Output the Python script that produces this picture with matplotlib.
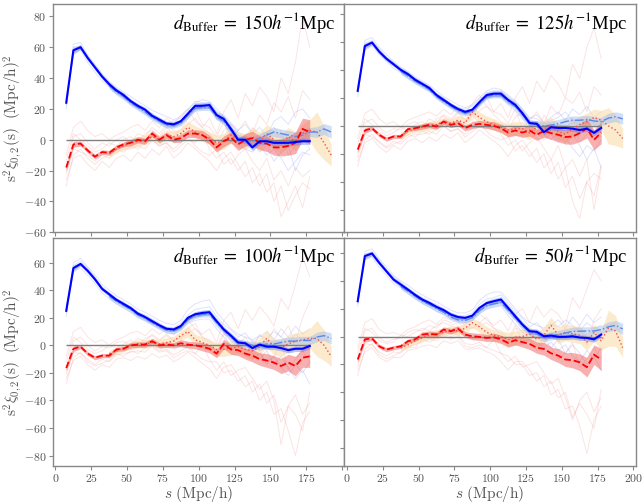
import numpy as np
import matplotlib
matplotlib.use('Agg')
import matplotlib.pyplot as plt
from matplotlib.ticker import FuncFormatter

plt.rcParams['mathtext.fontset'] = 'cm'

# bin centres (Mpc/h)
s_main = np.arange(7.5, 180, 5)    # 35 bins, 7.5 .. 177.5
s_alt = np.arange(37.5, 195, 5)    # 32 bins, 37.5 .. 192.5

buffers = [150, 125, 100, 50]

# ---- top left (150) ----
mono_tl = [24, 58, 60, 53, 47, 41, 36, 32, 29, 25, 22, 19.5, 15.5, 13, 10.5, 10, 12, 17, 22, 22, 22.5, 16, 13.5, 7, 0, 0, -5, -1, -1, -2, -2, -2, -1.5, -1, -1]
quad_tl = [-18, -3, -2.5, -7, -11, -8, -8.5, -5, -3, -2, 0, -1, 4, 0, 3, 0, 1, 4, 4, 3, 0, -5, -1, 1.5, -3, 0, 1, -2, -2.5, -5, -5, -4, -2, 7, 5]
mono2_tl = [35, 31, 28, 24, 21, 18, 14.5, 12, 9.5, 9.5, 11, 16, 20.5, 21, 21, 15, 12, 6, 1, 0, -1, 1, 3, 5, 4, 3, 2, 3, 5, 5, 7, 5]
quad2_tl = [-9, -6, -4, -2, -1, 0, 2, 0, 3, 2, 4, 8, 5, 3, 1, -2, -1, 3, 0, -1, 2, -1, 4, 0, -3, 2, -1, 4, 6, 5, -2, -10]

# ---- top right (125) ----
mono_tr = [25, 57, 59.5, 53, 48, 44, 40, 37, 33, 30, 27, 22, 18.5, 15, 12, 10, 11.5, 17, 22, 23, 23, 18.5, 15, 9, 2, 1.5, -4.5, -1, -1.5, -1.5, -2, -3, -2, -5, -1.5]
quad_tr = [-17, -3.3, -1.7, -6.4, -9.5, -7.6, -7.6, -2.4, -1.7, -0.5, 0.7, -0.5, 3, 0.7, 2, -1.7, 0.7, 1.4, 0.7, 0, -1.7, -4.8, -3.3, -4.8, -3.3, -6.4, -3.6, -5.2, -6.4, -8, -7.6, -5.2, -1.7, -10, -4.8]
mono2_tr = [39, 35.5, 32, 29, 26, 21, 17.5, 14, 11, 9, 10.5, 16, 21, 22, 22, 17.5, 14, 8, 2, 1, 0, 0.5, 1.5, 3, 4, 4, 4.5, 3.5, 3, 5.5, 6.5, 5]
quad2_tr = [-7, -4, -2, -1, 0, 1, 3, 2, 4, 2, 10, 6, 3, 1, -1, -3, -2, -2, -5, -1, -2, 0, -4, -6, -2, 1, 3, 6, 4, 0, -3, -9]

# ---- bottom left (100) ----
mono_bl = [25, 56, 59, 54, 48, 41, 37, 33, 30, 27, 23, 20.5, 17.5, 14.5, 12, 11.5, 14, 20, 22.5, 23.5, 24, 17.5, 11.5, 7, 2, 1.5, -2, 0.5, -1, -1, -2, -3.5, -2.5, -2.5, -0.5]
quad_bl = [-16.5, -2.5, -1, -6, -9, -7.5, -7.5, -3, -2.5, 0, 0.5, 0.5, 3, 0, 0.5, 0, 1.5, 0.5, 0, -1, -2.5, -6, 1, -3, -3.5, -6, -7.5, -10, -11, -12.5, -15, -12.5, -15, -9, -8]
mono2_bl = [35.5, 32, 29, 26, 22, 19.5, 16.5, 13.5, 11, 10.5, 13, 18.5, 21.5, 22.5, 22.5, 16.5, 11, 6, 2, 1, 0, -0.5, 1, 1, 2, 3, 3, 3.5, 3.5, 6, 7, 5]
quad2_bl = [-6, -4, -2, 0, 1, 1, 2, 1, 2, 3, 7, 10, 4, 2, 0, -3, -3, -2, -1, -3, -4, -1, 5, -1, -2, 1, 3, 4, 5, 5, 0, -8]

# ---- bottom right (50) ----
mono_br = [25.4, 57.8, 59.7, 53, 47, 41, 37.4, 33.8, 30, 26.6, 24.2, 21.3, 19, 15.8, 14, 13.4, 15, 20.6, 24, 25.4, 26.6, 20.6, 14.6, 8.6, 3.8, 3.4, 0.2, 0.7, -0.2, -0.2, 0.2, -0.7, -1, -2, 1.4]
quad_br = [-16.5, -2, -1.4, -7, -9.4, -8, -7, -3.4, -2, 1.4, 2, 1.4, 5, 3.8, 5.7, 1.4, 0.2, -0.2, -1, -0.5, -2, -4.6, -2.6, -4, -5.3, -8, -8.9, -12, -13.7, -16.5, -17, -18.5, -22, -13, -16.5]
mono2_br = [36, 32.5, 29, 25.5, 23, 20, 17.5, 14, 12, 11.5, 13.5, 18.5, 22, 23.5, 24.5, 19, 13.5, 8, 3, 2, -1, 0.5, 1.5, 2.5, 3.8, 3.8, 4, 4, 5, 7, 8, 5.5]
quad2_br = [-8, -6, -3, -1, 1, 2, 3, 5, 4, 6, 10, 7, 3, 1, 0, -2, -1, 0, 2, -2, 1, 8, 1, 3, 2, 1, -4, 3, -3, 6, 4, -8]

# error bands (half widths)
mono_err = [2, 2, 1.5, 1.5, 1.5, 1.5, 1.5, 1.5, 1.5, 1.5, 1.5, 1.5, 1.5, 1.5, 1.5, 1.5, 1.5, 1.5, 2, 2, 2, 2, 2, 2, 2, 2, 2, 2, 2, 2, 2, 2, 2, 2, 2]
quad_err = [2, 2, 1.5, 1.5, 1.5, 1.5, 1.5, 1.5, 1.5, 2, 2, 2, 2, 2, 2, 2, 2.5, 2.5, 2.5, 3, 3, 3, 3.5, 3.5, 4, 4, 4.5, 4.5, 5, 5, 5.5, 6, 7, 7, 8]
mono2_err = [2, 2, 2, 2, 2, 2, 2, 2, 2, 2, 2, 2, 2, 2, 2, 2, 2, 2.5, 2.5, 2.5, 2.5, 3, 3, 3, 3, 3, 3, 3, 3, 3.5, 3.5, 4]
quad2_err = [2.5, 2.5, 2.5, 3, 3, 3, 3, 3, 3.5, 3.5, 3.5, 4, 4, 4, 4, 5, 5, 5, 5, 5, 6, 6, 6, 6, 6, 6, 6, 6, 7, 13, 11, 7]

# individual mocks (faint lines)
mocks_mono_tl = [
    [20, 62, 63, 55, 49, 43, 38, 34, 31, 28, 25, 22, 19, 17, 15, 13, 15, 20, 24, 26, 25, 20, 15, 10, 5, 2, -2, 3, 5, 8, 2, -4, 0, 6, 4],
    [27, 55, 58, 50, 44, 38, 34, 30, 27, 23, 20, 17, 14, 11, 8, 8, 10, 14, 19, 21, 20, 14, 10, 4, -4, -6, -8, -3, -10, -6, -12, -20, -14, -8, -10],
    [23, 60, 61, 54, 47, 42, 37, 33, 29, 26, 22, 20, 17, 14, 11, 12, 14, 19, 25, 24, 24, 18, 16, 11, 6, 10, 4, 8, 2, 12, 15, 10, 18, 20, 14],
    [25, 57, 59, 52, 46, 40, 35, 31, 28, 24, 21, 18, 15, 12, 9, 9, 11, 16, 21, 23, 21, 13, 12, 2, -3, -5, -2, -8, -4, -14, -8, -4, -20, -10, -6],
]
mocks_quad_tl = [
    [-10, 8, 12, 6, 2, 4, 0, 3, 5, 8, 10, 6, 12, 8, 14, 10, 16, 20, 12, 8, 14, 4, 18, 26, 14, 30, 22, 34, 28, 18, 40, 30, 50, 80, 60],
    [-26, -12, -10, -16, -20, -14, -18, -12, -10, -14, -8, -12, -6, -10, -4, -12, -8, -2, -6, -10, -14, -20, -12, -8, -16, -24, -18, -30, -22, -40, -30, -46, -36, -28, -32],
    [-20, 2, 4, -2, -6, -2, -4, 0, 2, -2, 4, 2, 8, 4, 10, 6, 4, 10, 14, 8, 4, -2, 6, 10, 4, -4, 8, 2, -8, -2, 6, -10, -4, 2, -6],
    [-30, -10, -6, -12, -16, -12, -10, -6, -8, -4, -6, -2, 0, -4, -2, -8, -4, 0, -2, 4, -6, -12, -8, -16, -10, -6, -14, -20, -12, -26, -20, -30, -18, -24, -20],
    [-14, 4, 0, -4, -8, -6, -2, -4, 0, 2, -2, 4, 6, 2, 8, 4, 6, 14, 20, 10, 8, 2, 12, -2, 6, 12, 4, 16, 10, 24, 18, 28, 14, 32, 26],
    [-22, -6, -8, -10, -14, -10, -12, -8, -6, -6, -4, -6, 0, -4, -2, -6, -2, 2, -4, -8, -10, -6, -16, -12, -20, -14, -28, -22, -34, -28, -50, -40, -30, -44, -24],
]
mocks_mono_tr = [
    [21, 61, 63, 56, 51, 46, 42, 39, 35, 32, 29, 25, 21, 18, 15, 13, 15, 20, 25, 27, 26, 22, 18, 12, 6, 5, 2, 4, 6, 10, 4, 0, 6, 2, 4],
    [28, 54, 57, 51, 46, 41, 38, 34, 31, 28, 25, 20, 16, 13, 10, 8, 10, 15, 20, 21, 20, 15, 11, 5, -2, -4, -10, -6, -12, -8, -16, -22, -14, -18, -10],
    [24, 59, 61, 55, 49, 45, 41, 38, 34, 31, 28, 23, 20, 16, 13, 12, 14, 19, 24, 25, 25, 21, 17, 12, 5, 8, 2, 6, 10, 4, 12, 8, 14, 6, 10],
    [26, 56, 58, 52, 47, 43, 39, 36, 32, 29, 26, 21, 17, 14, 11, 9, 11, 16, 21, 22, 21, 16, 14, 6, 0, -3, -6, -10, -4, -12, -6, -14, -24, -16, -30],
]
mocks_quad_tr = [
    [-9, 9, 12, 5, 1, 3, -1, 4, 6, 8, 10, 7, 12, 8, 14, 9, 16, 22, 14, 10, 16, 6, 20, 28, 16, 32, 24, 36, 30, 20, 44, 34, 56, 70, 48],
    [-25, -12, -9, -15, -19, -14, -17, -11, -9, -12, -8, -11, -6, -9, -5, -12, -8, -3, -7, -11, -15, -22, -14, -10, -18, -26, -20, -34, -26, -44, -36, -52, -40, -34, -38],
    [-19, 2, 5, -1, -5, -2, -3, 1, 3, -1, 5, 2, 8, 5, 10, 5, 4, 11, 14, 8, 3, -3, 6, 10, 3, -6, 8, 0, -10, -4, 6, -12, -6, 0, -8],
    [-29, -10, -6, -12, -16, -13, -11, -6, -8, -4, -6, -2, 0, -4, -2, -8, -4, 0, -2, 4, -6, -14, -10, -18, -12, -8, -16, -24, -14, -30, -24, -36, -24, -60, -30],
    [-13, 5, 1, -3, -7, -5, -1, -3, 1, 3, -1, 5, 7, 3, 9, 4, 7, 15, 21, 10, 8, 2, 12, -2, 4, 10, 2, 14, 8, 20, 16, 24, 10, 28, 22],
    [-22, -6, -8, -11, -15, -11, -13, -8, -6, -6, -4, -6, 0, -4, -2, -6, -2, 2, -4, -8, -10, -8, -18, -14, -22, -16, -30, -24, -38, -30, -54, -66, -40, -50, -28],
]
mocks_mono_bl = [
    [21, 60, 63, 57, 51, 44, 40, 36, 33, 30, 26, 24, 21, 18, 16, 15, 18, 26, 30, 32, 33, 24, 18, 12, 8, 6, 4, 7, 5, 10, 6, 2, 8, 4, 6],
    [28, 53, 56, 51, 45, 38, 34, 30, 27, 24, 20, 18, 15, 12, 9, 8, 11, 16, 18, 19, 19, 12, 6, 0, -4, -6, -10, -6, -12, -8, -16, -22, -14, -20, -12],
    [24, 58, 61, 56, 49, 42, 38, 34, 31, 28, 24, 22, 19, 16, 13, 13, 16, 22, 26, 27, 28, 21, 15, 11, 6, 9, 2, 6, 10, 4, 12, 6, 14, 8, 12],
    [26, 55, 58, 53, 47, 40, 36, 32, 29, 26, 22, 19, 16, 13, 10, 10, 12, 18, 21, 22, 22, 14, 9, 3, -1, -3, -6, -10, -4, -14, -8, -16, -24, -18, -28],
]
mocks_quad_bl = [
    [-8, 10, 13, 6, 2, 4, 0, 4, 6, 9, 10, 7, 12, 8, 12, 8, 14, 18, 12, 8, 12, 2, 18, 24, 12, 26, 18, 28, 22, 14, 34, 26, 44, 64, 50],
    [-24, -11, -8, -14, -18, -14, -16, -10, -9, -11, -8, -10, -6, -9, -7, -12, -9, -5, -9, -13, -17, -24, -16, -14, -22, -30, -26, -40, -34, -50, -46, -62, -80, -56, -48],
    [-18, 3, 6, 0, -4, -1, -2, 2, 3, 0, 5, 3, 8, 4, 8, 4, 5, 9, 12, 6, 2, -4, 8, 6, 0, -8, 4, -4, -14, -8, 2, -18, -10, -4, -12],
    [-28, -9, -5, -12, -15, -13, -11, -6, -8, -4, -6, -2, -1, -5, -4, -9, -6, -4, -6, 0, -10, -18, -12, -22, -18, -16, -24, -32, -26, -40, -72, -44, -36, -50, -42],
    [-12, 6, 2, -3, -6, -4, 0, -2, 1, 4, 0, 5, 7, 3, 7, 3, 6, 12, 16, 6, 4, -2, 10, -4, 0, 6, -2, 8, 2, 12, 6, 14, 2, 20, 32],
    [-21, -5, -6, -10, -14, -10, -12, -7, -6, -5, -4, -5, 0, -4, -3, -7, -4, -1, -6, -10, -12, -12, -20, -18, -26, -22, -34, -28, -42, -36, -56, -44, -50, -62, -34],
]
mocks_mono_br = [
    [22, 61, 63, 56, 50, 44, 40, 37, 33, 30, 27, 25, 22, 19, 17, 17, 19, 26, 30, 32, 32, 26, 20, 14, 10, 8, 6, 9, 7, 12, 8, 4, 10, 6, 8],
    [28, 55, 57, 50, 44, 38, 35, 31, 27, 24, 21, 18, 16, 13, 11, 10, 12, 17, 20, 21, 22, 15, 9, 3, -2, -4, -8, -4, -10, -6, -14, -18, -10, -16, -8],
    [24, 59, 61, 55, 48, 43, 39, 35, 31, 28, 25, 23, 20, 17, 15, 15, 17, 23, 27, 28, 30, 24, 18, 13, 7, 10, 4, 8, 12, 6, 14, 8, 16, 10, 14],
    [26, 56, 58, 52, 46, 40, 36, 33, 29, 25, 23, 20, 17, 14, 12, 12, 13, 19, 22, 23, 24, 17, 12, 5, 1, -1, -4, -8, -2, -12, -6, -12, -20, -14, -24],
]
mocks_quad_br = [
    [-8, 10, 13, 5, 2, 3, 1, 5, 7, 10, 12, 9, 14, 12, 14, 10, 12, 16, 12, 8, 12, 4, 16, 20, 10, 22, 14, 20, 16, 8, 28, 20, 34, 48, 40],
    [-24, -11, -8, -15, -18, -15, -15, -10, -9, -7, -6, -8, -3, -5, -3, -9, -9, -8, -11, -13, -18, -24, -18, -18, -24, -32, -28, -42, -38, -52, -50, -64, -84, -60, -50],
    [-18, 4, 6, -1, -4, -2, -1, 3, 5, 4, 8, 6, 12, 10, 12, 8, 6, 8, 10, 6, 2, -4, 6, 4, -2, -10, 0, -8, -16, -12, -4, -22, -16, -8, -16],
    [-28, -9, -5, -13, -16, -14, -11, -7, -8, -2, -4, -1, 1, -2, 0, -7, -8, -6, -8, -2, -12, -18, -14, -22, -20, -18, -26, -34, -30, -44, -60, -46, -40, -54, -44],
    [-12, 6, 3, -3, -5, -4, 1, 0, 3, 6, 4, 8, 10, 8, 10, 6, 6, 10, 14, 6, 4, -2, 8, -4, -2, 2, -6, 4, -4, 6, 0, 8, -6, 12, 20],
    [-21, -5, -6, -11, -14, -11, -12, -7, -6, -3, -2, -3, 2, 0, 2, -5, -6, -4, -8, -10, -12, -14, -20, -20, -28, -26, -36, -32, -44, -40, -58, -48, -56, -66, -38],
]

ylims = [(-60, 88), (-76, 87), (-87.5, 78), (-93, 71)]

panels = [
    (mono_tl, quad_tl, mono2_tl, quad2_tl, mocks_mono_tl, mocks_quad_tl),
    (mono_tr, quad_tr, mono2_tr, quad2_tr, mocks_mono_tr, mocks_quad_tr),
    (mono_bl, quad_bl, mono2_bl, quad2_bl, mocks_mono_bl, mocks_quad_bl),
    (mono_br, quad_br, mono2_br, quad2_br, mocks_mono_br, mocks_quad_br),
]

fig, axes = plt.subplots(2, 2, figsize=(6.43, 5.03), dpi=100)
fig.subplots_adjust(left=0.0824, right=0.989, top=0.992, bottom=0.0736, wspace=0, hspace=0.024)

def tick_fmt(v, pos):
    if v >= 200:
        return ''
    return r'$%g$' % v

for i, ax in enumerate(axes.flat):
    mono, quad, mono2, quad2, mk_mono, mk_quad = panels[i]
    mono, quad = np.array(mono), np.array(quad)
    mono2, quad2 = np.array(mono2), np.array(quad2)

    # faint individual mocks
    for m in mk_quad:
        ax.plot(s_main, m, color='#f08080', lw=0.7, alpha=0.22, zorder=1)
    for m in mk_mono:
        ax.plot(s_main, m, color='#8090f0', lw=0.7, alpha=0.25, zorder=1)

    # bands
    ax.fill_between(s_alt, quad2 - quad2_err, quad2 + quad2_err, color='#fbd9a5', alpha=0.55, lw=0, zorder=2)
    ax.fill_between(s_alt, mono2 - mono2_err, mono2 + mono2_err, color='#9ab8ee', alpha=0.45, lw=0, zorder=2)
    ax.fill_between(s_main, quad - quad_err, quad + quad_err, color='#f06060', alpha=0.5, lw=0, zorder=2)
    ax.fill_between(s_main, mono - mono_err, mono + mono_err, color='#5f80f0', alpha=0.45, lw=0, zorder=2)

    ax.hlines(0, s_main[0], s_main[-1], color='gray', lw=1, zorder=3)

    ax.plot(s_alt, quad2, color='#f05050', ls=':', lw=1.0, zorder=4)
    ax.plot(s_alt, mono2, color='#5a8ae8', ls='-.', lw=1.0, zorder=4)
    ax.plot(s_main, quad, color='red', ls='--', lw=1.3, zorder=5)
    ax.plot(s_main, mono, color='blue', lw=1.5, zorder=5)

    ax.set_xticks(np.arange(0, 201, 25))
    ax.set_yticks(np.arange(-80, 81, 20))
    ax.set_xlim(-1.75, 201.75)
    ax.set_ylim(*ylims[i])

    ax.text(0.97, 0.975, r'$d_{\rm Buffer}\;=\;%dh^{-1}$Mpc' % buffers[i], transform=ax.transAxes,
            ha='right', va='top', fontsize=13.5, family='Liberation Serif', math_fontfamily='stix')

    for sp in ax.spines.values():
        sp.set_color('#888888')
        sp.set_linewidth(1.0)
    ax.tick_params(direction='out', length=3, width=0.8, color='#888888', labelcolor='#555555',
                   labelsize=8.5, pad=1.5)
    ax.xaxis.set_major_formatter(FuncFormatter(tick_fmt))
    ax.yaxis.set_major_formatter(FuncFormatter(tick_fmt))

    if i % 2 == 1:
        ax.tick_params(labelleft=False)
    else:
        ax.set_ylabel(r'$\mathrm{s}^2\xi_{0,2}(\mathrm{s})\ \ (\mathrm{Mpc/h})^2$', fontsize=11,
                      color='#555555', labelpad=0)
    if i < 2:
        ax.tick_params(labelbottom=False)
    else:
        ax.set_xlabel(r'$s\ (\mathrm{Mpc/h})$', fontsize=11, color='#555555', labelpad=-1)

# right column shows 200 on the x axis
axes[1, 1].xaxis.set_major_formatter(FuncFormatter(lambda v, p: r'$%g$' % v))

fig.savefig('out.png', dpi=100)
